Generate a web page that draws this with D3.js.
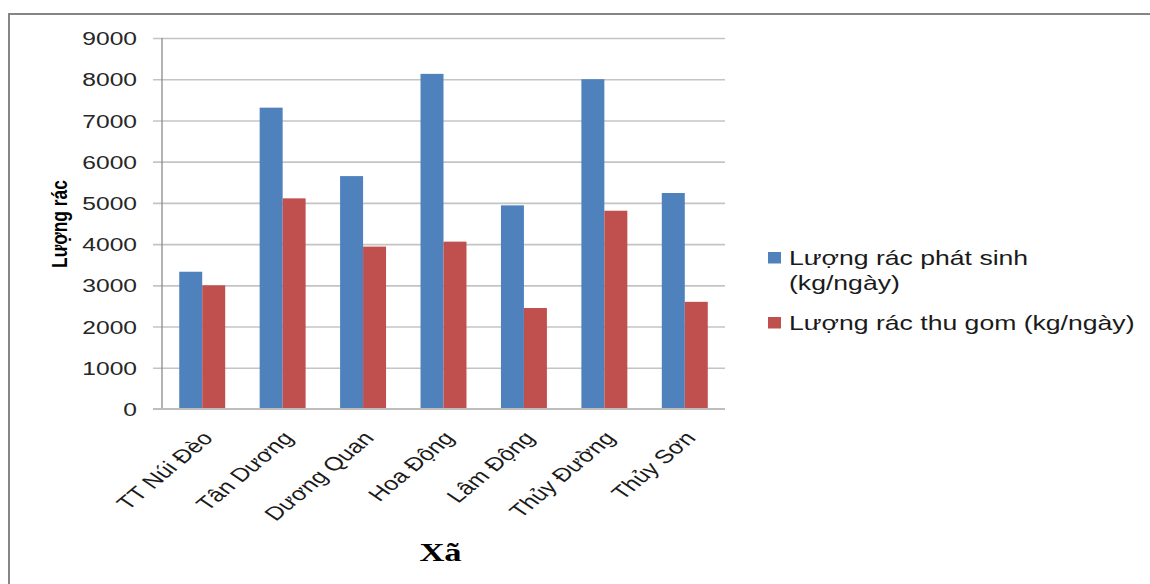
<!DOCTYPE html>
<html>
<head>
<meta charset="utf-8">
<script src="https://cdn.jsdelivr.net/npm/d3@7"></script>
<style>
  html, body { margin: 0; padding: 0; background: #fff; }
  svg { display: block; }
</style>
</head>
<body>
<svg id="chart" width="1150" height="584"></svg>
<script>
const categories = ["TT Núi Đèo", "Tân Dương", "Dương Quan", "Hoa Động", "Lâm Động", "Thủy Đường", "Thủy Sơn"];
const generatedKg = [3330, 7310, 5650, 8130, 4940, 8000, 5240];
const collectedKg = [3000, 5110, 3940, 4060, 2450, 4810, 2600];
const seriesNames = ["Lượng rác phát sinh (kg/ngày)", "Lượng rác thu gom (kg/ngày)"];
const legendLines = [["Lượng rác phát sinh", "(kg/ngày)"], ["Lượng rác thu gom (kg/ngày)"]];
const seriesColors = ["#4F81BD", "#C0504D"];
const yTicks = [0, 1000, 2000, 3000, 4000, 5000, 6000, 7000, 8000, 9000];
const yTitle = "Lượng rác";
const xTitle = "Xã";

(function () {
const S = 1.33; // horizontal stretch of the original picture
const svg = d3.select("#chart");

// outer frame
svg.append("rect").attr("x", 9).attr("y", 14).attr("width", 1200).attr("height", 700)
  .attr("fill", "#fff").attr("stroke", "#858585").attr("stroke-width", 2);

const pLeft = 162, pRight = 725, pTop = 38, pBottom = 409;
const x = d3.scaleBand().domain(categories).range([pLeft, pRight]).paddingInner(3 / 7).paddingOuter(1.5 / 7);
const xs = d3.scaleBand().domain([0, 1]).range([0, x.bandwidth()]);
const y = d3.scaleLinear().domain([0, 9000]).range([pBottom, pTop]);

// gridlines (incl. tick stubs)
const grid = svg.append("g").attr("transform", `translate(${pRight},0)`)
  .call(d3.axisLeft(y).tickValues(yTicks).tickSize(pRight - 153).tickFormat(""));
grid.select(".domain").remove();
grid.selectAll(".tick line").attr("stroke", "#c4c4c4").attr("stroke-width", 1.6);
grid.selectAll(".tick").filter(d => d === 0).remove();

// y axis labels
const yAxis = svg.append("g").attr("transform", `translate(${pLeft},0)`)
  .call(d3.axisLeft(y).tickValues(yTicks).tickSize(0).tickFormat(d3.format("d")));
yAxis.select(".domain").remove();
yAxis.selectAll(".tick text")
  .attr("x", -25 / S).attr("dy", "0.36em")
  .attr("transform", `scale(${S},1)`)
  .attr("font-family", "Liberation Sans, Arial, sans-serif")
  .attr("font-size", 18.5).attr("fill", "#262626");

// bars
const data = categories.map((c, i) => ({ c, v: [generatedKg[i], collectedKg[i]] }));
const groups = svg.append("g").selectAll("g").data(data).join("g")
  .attr("transform", d => `translate(${x(d.c)},0)`);
groups.selectAll("rect").data(d => d.v.map((v, k) => ({ v, k }))).join("rect")
  .attr("x", d => xs(d.k)).attr("width", xs.bandwidth())
  .attr("y", d => y(d.v)).attr("height", d => y(0) - y(d.v))
  .attr("fill", d => seriesColors[d.k]);

// y axis line
svg.append("line").attr("x1", pLeft).attr("x2", pLeft).attr("y1", y(9000)).attr("y2", y(0))
  .attr("stroke", "#8a8a8a").attr("stroke-width", 1.3);

// x axis
const xAxis = svg.append("g").attr("transform", `translate(0,${pBottom})`)
  .call(d3.axisBottom(x).tickSize(0).tickFormat(""));
xAxis.select(".domain").remove();
svg.append("line").attr("x1", 153).attr("x2", pRight).attr("y1", pBottom).attr("y2", pBottom)
  .attr("stroke", "#bdbdbd").attr("stroke-width", 2);
svg.append("g").selectAll("g").data(categories).join("g")
  .attr("transform", d => `translate(${x(d) + x.bandwidth() / 2 + 12},439) scale(${S},1) rotate(-48)`)
  .append("text").attr("text-anchor", "end")
  .attr("font-family", "Liberation Sans, Arial, sans-serif").attr("font-size", 19)
  .attr("fill", "#1a1a1a").text(d => d);

// axis titles
svg.append("g").attr("transform", `translate(67,224) scale(${S},1) rotate(-90)`)
  .append("text").attr("text-anchor", "middle")
  .attr("font-family", "Liberation Sans Narrow, Liberation Sans, Arial, sans-serif")
  .attr("font-weight", "bold").attr("font-size", 16.5)
  .attr("textLength", 88).attr("lengthAdjust", "spacingAndGlyphs")
  .attr("fill", "#000").text(yTitle);

svg.append("g").attr("transform", `translate(${(pLeft + pRight) / 2 - 3},561) scale(${S},1)`)
  .append("text").attr("text-anchor", "middle")
  .attr("font-family", "Liberation Serif, Times New Roman, serif")
  .attr("font-weight", "bold").attr("font-size", 26).attr("fill", "#000").text(xTitle);

// legend
const legendY = [252, 317];
const legend = svg.append("g").selectAll("g").data(seriesNames).join("g");
legend.append("rect").attr("x", 768).attr("y", (d, i) => legendY[i])
  .attr("width", 13).attr("height", 11.5).attr("fill", (d, i) => seriesColors[i]);
legend.append("g").attr("transform", (d, i) => `translate(789,${legendY[i] + 13}) scale(${S},1)`)
  .append("text")
  .attr("font-family", "Liberation Sans, Arial, sans-serif").attr("font-size", 20)
  .attr("fill", "#1a1a1a")
  .selectAll("tspan").data((d, i) => legendLines[i]).join("tspan")
  .attr("x", 0).attr("dy", (d, j) => j === 0 ? 0 : 25.5).text(d => d);
})();
</script>
</body>
</html>
